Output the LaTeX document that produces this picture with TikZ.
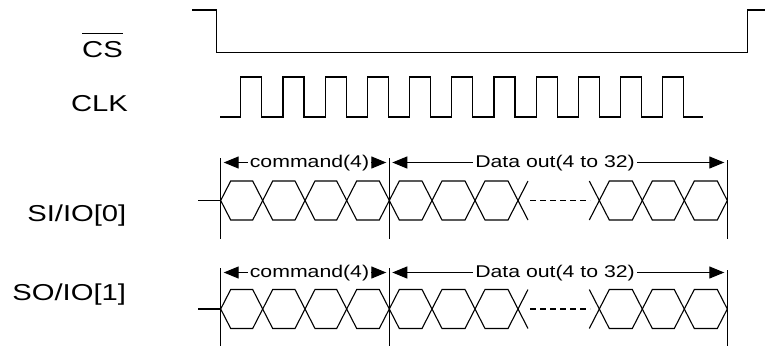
\documentclass[tikz,border=0pt]{standalone}
\usepackage{fontspec}
\usepackage{graphicx}
\setmainfont{Liberation Sans}
\usetikzlibrary{arrows.meta}
\newcommand\busrow[1]{%
\begin{scope}[shift={(0,#1)}]
 \draw[sig] (198,0) -- (220.7,0);
 \foreach \a/\b in {220.7/262.7, 262.7/305, 305/346.7, 346.7/389.3, 389.3/432, 432/475, 475/518, 599.3/642.3, 642.3/684.3, 684.3/727.3}
   \draw[sig] (\a,0) -- (\a+10,-19.5) -- (\b-10,-19.5) -- (\b,0) -- (\b-10,19.5) -- (\a+10,19.5) -- cycle;
 \draw[sig] (528,-19.5) -- (518,0) -- (528,19.5);
 \draw[sig] (589.3,-19.5) -- (599.3,0) -- (589.3,19.5);
 \draw[sig, dash pattern=on 6pt off 4pt] (530,0) -- (590,0);
\end{scope}}
\begin{document}
\begin{tikzpicture}[x=1pt,y=-1pt,
  sig/.style={line width=1.1pt, line join=miter},
  lbl/.style={inner sep=0pt, anchor=base, font=\fontsize{23}{26}\selectfont},
  dimarrow/.style={line width=1.1pt, {Triangle[length=15pt,width=12pt]}-{Triangle[length=15pt,width=12pt]}, shorten <=3pt, shorten >=3pt},
  smalltxt/.style={fill=white, inner xsep=2pt, inner ysep=0pt, anchor=base, font=\fontsize{17}{20}\selectfont}
]
\useasboundingbox (0,0) rectangle (765,346);

% labels
\node[lbl] (cs) at (102.5,57) {\scalebox{1.27}[1]{CS}};
\draw[line width=1.1pt] ([yshift=7pt]cs.north west) -- ([yshift=7pt]cs.north east);
\node[lbl] (clk) at (99.5,111.7) {\scalebox{1.27}[1]{CLK}};
\node[lbl] (si) at (76.8,221.5) {\scalebox{1.27}[1]{SI/IO[0]}};
\node[lbl] (so) at (69.2,300) {\scalebox{1.27}[1]{SO/IO[1]}};

% CS waveform
\draw[sig] (192,10) -- (216.7,10) -- (216.7,52.3) -- (747.3,52.3) -- (747.3,10) -- (765,10);

% CLK waveform
\draw[sig] (220,117) \foreach \r in {240.7,283.0,325.2,367.4,409.6,451.8,494.0,536.2,578.4,620.6,662.8} { -- (\r,117) -- (\r,77) -- (\r+21,77) -- (\r+21,117) } -- (703.3,117);

% buses
\busrow{200.5}
\busrow{309}

% SI markers
\coordinate (sia) at (220.7,158);  \coordinate (sib) at (220.7,239);
\coordinate (sic) at (389.3,158);  \coordinate (sid) at (389.3,239);
\coordinate (sie) at (727.3,160);  \coordinate (sif) at (727.3,239);
\draw[sig] (sia) -- (sib);
\draw[sig] (sic) -- (sid);
\draw[sig] (sie) -- (sif);
\coordinate (siA) at (220.7,162.5);
\coordinate (siB) at (389.3,162.5);
\coordinate (siC) at (727.3,162.5);
\draw[dimarrow] (siA) -- (siB);
\draw[dimarrow] (siB) -- (siC);
\node[smalltxt] (sicmd) at (309.5,167.5) {\scalebox{1.25}[1]{command(4)}};
\node[smalltxt] (sidat) at (555,167.5) {\scalebox{1.25}[1]{Data out(4 to 32)}};

% SO markers
\coordinate (soa) at (220.7,268);  \coordinate (sob) at (220.7,346);
\coordinate (soc) at (389.3,268);  \coordinate (sod) at (389.3,346);
\coordinate (soe) at (727.3,270);  \coordinate (sof) at (727.3,346);
\draw[sig] (soa) -- (sob);
\draw[sig] (soc) -- (sod);
\draw[sig] (soe) -- (sof);
\coordinate (soA) at (220.7,272.5);
\coordinate (soB) at (389.3,272.5);
\coordinate (soC) at (727.3,272.5);
\draw[dimarrow] (soA) -- (soB);
\draw[dimarrow] (soB) -- (soC);
\node[smalltxt] (socmd) at (309.5,277.5) {\scalebox{1.25}[1]{command(4)}};
\node[smalltxt] (sodat) at (555,277.5) {\scalebox{1.25}[1]{Data out(4 to 32)}};
\end{tikzpicture}
\end{document}
